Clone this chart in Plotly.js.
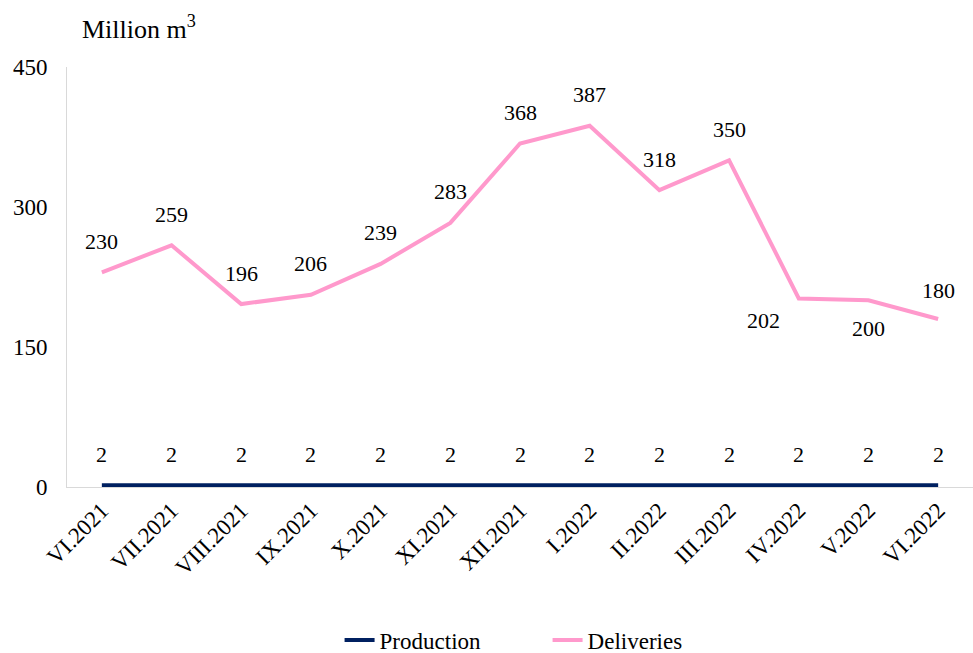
<!DOCTYPE html>
<html>
<head>
<meta charset="utf-8">
<script src="https://cdn.plot.ly/plotly-3.0.1.min.js"></script>
<style>html,body{margin:0;padding:0;background:#fff;}#chart{width:973px;height:653px;}</style>
</head>
<body>
<div id="chart"></div>
<script>
const months = ["VI.2021","VII.2021","VIII.2021","IX.2021","X.2021","XI.2021","XII.2021","I.2022","II.2022","III.2022","IV.2022","V.2022","VI.2022"];
const production = [2,2,2,2,2,2,2,2,2,2,2,2,2];
const deliveries = [230,259,196,206,239,283,368,387,318,350,202,200,180];
const yTicks = [0,150,300,450];

// label offsets (pixels) for deliveries data labels
const delivXShift = [0,0,0,0,0,0,0,0,0,0,-35,0,0];
const delivYShift = [31,31,31,31,31,31,31,31,31,31,-22,-28,29];

const FONT = "Liberation Serif";

const traces = [
  {x: months, y: production, name: "Production", type: "scatter", mode: "lines",
   line: {color: "#002060", width: 4}},
  {x: months, y: deliveries, name: "Deliveries", type: "scatter", mode: "lines",
   line: {color: "#ff99cc", width: 4}}
];

const annotations = [];
months.forEach((m, i) => {
  annotations.push({x: m, y: production[i], text: String(production[i]), showarrow: false,
    yshift: 31, font: {family: FONT, size: 22, color: "#000"}});
  annotations.push({x: m, y: deliveries[i], text: String(deliveries[i]), showarrow: false,
    xshift: delivXShift[i], yshift: delivYShift[i], font: {family: FONT, size: 22, color: "#000"}});
});
annotations.push({xref: "paper", yref: "paper", x: 0.014, y: 1.095, xanchor: "left", yanchor: "middle",
  text: "Million m<sup>3</sup>", showarrow: false, font: {family: FONT, size: 26, color: "#000"}});

const layout = {
  width: 973, height: 653,
  margin: {l: 67, r: 0, t: 67, b: 166},
  paper_bgcolor: "#fff", plot_bgcolor: "#fff",
  font: {family: FONT, size: 23, color: "#000"},
  showlegend: true,
  legend: {orientation: "h", xref: "container", x: 0.349, xanchor: "left", y: 0.02, yanchor: "middle", yref: "container",
    entrywidth: 163, font: {family: FONT, size: 23, color: "#000"}, tracegroupgap: 0},
  xaxis: {type: "category", range: [-0.5, 12.5], showgrid: false, showline: true, linecolor: "#d9d9d9", linewidth: 1,
    ticks: "", tickangle: -45, tickfont: {family: FONT, size: 23}, fixedrange: true},
  yaxis: {range: [0, 450], tickvals: yTicks, ticktext: yTicks.map(String), showgrid: false, zeroline: false,
    showline: true, linecolor: "#d9d9d9", linewidth: 1, ticks: "", ticklabelstandoff: 14,
    tickfont: {family: FONT, size: 23}, fixedrange: true},
  annotations: annotations
};

Plotly.newPlot("chart", traces, layout, {displayModeBar: false, staticPlot: true});
</script>
</body>
</html>
